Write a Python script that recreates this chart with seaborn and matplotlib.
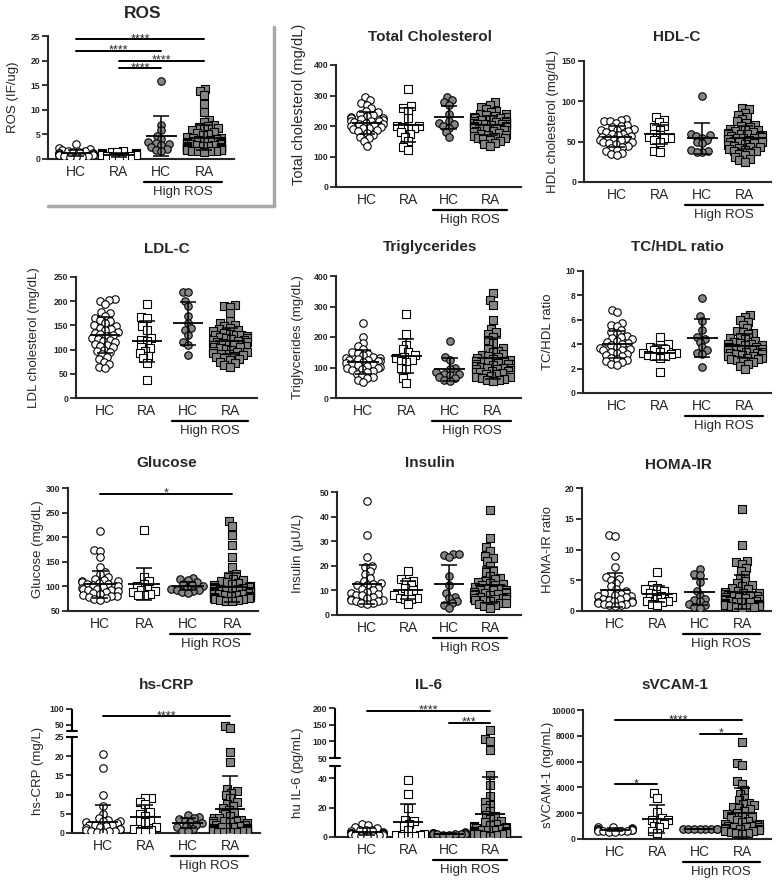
import numpy as np
import matplotlib
matplotlib.use("Agg")
import matplotlib.pyplot as plt
import seaborn as sns
from matplotlib.lines import Line2D
from matplotlib.transforms import ScaledTranslation

sns.set_style("ticks")
plt.rcParams['font.family'] = ['Liberation Sans', 'DejaVu Sans']

W, H = 776, 882
groups = ['HC', 'RA', 'High ROS HC', 'High ROS RA']
group_labels = ['HC', 'RA', 'HC', 'RA']
markers = ['o', 's', 'o', 's']
fills = ['white', 'white', '#858585', '#858585']

# ---- data (HC, RA, High ROS HC, High ROS RA) ----
ros_hc = [3.0, 2.2, 2.0, 1.8, 1.7, 1.6, 1.5, 1.4, 1.3, 1.2, 1.2, 1.1, 1.0, 1.0, 0.9, 0.9, 0.8, 0.7, 0.6, 0.5, 0.4, 0.4]
ros_ra = [1.6, 1.5, 1.4, 1.3, 1.2, 1.1, 1.0, 0.9, 0.8, 0.7, 0.6, 0.5, 0.4, 0.3]
ros_hhc = [15.9, 7.0, 5.8, 4.7, 4.0, 3.5, 3.2, 3.0, 2.8, 2.5, 2.0, 1.8, 1.6]
ros_hra = [14.3, 13.9, 13.1, 11.2, 9.5, 8.0, 7.5, 7.0, 6.8, 6.5, 6.2, 6.0, 5.8, 5.5, 5.2, 5.0, 4.8,
           4.5, 4.3, 4.2, 4.0, 3.9, 3.8, 3.7, 3.6, 3.5, 3.4, 3.3, 3.2, 3.1, 3.0, 3.0, 2.9, 2.8, 2.7,
           2.6, 2.6, 2.5, 2.5, 2.4, 2.3, 2.2, 2.2, 2.1, 2.0, 2.0, 1.9, 1.9, 1.8, 1.8, 1.7, 1.7, 1.6, 1.6, 1.5]
ros_mean = [1.2, 0.9, 4.7, 4.35]
ros_sd = [0.6, 0.4, 4.0, 2.6]

tc_hc = [295, 285, 275, 270, 258, 250, 245, 240, 235, 232, 228, 225, 225, 222, 220, 218, 215, 215, 212,
         210, 208, 205, 203, 200, 198, 195, 192, 190, 186, 182, 178, 172, 165, 160, 150, 135]
tc_ra = [320, 265, 258, 250, 225, 200, 200, 198, 195, 193, 180, 175, 165, 150, 130, 120]
tc_hhc = [295, 285, 280, 270, 240, 215, 210, 205, 200, 195, 180, 165]
tc_hra = [280, 270, 262, 255, 250, 245, 240, 238, 235, 232, 230, 228, 225, 225, 222, 220, 218, 216, 215,
          214, 212, 210, 210, 208, 206, 205, 205, 203, 201, 200, 198, 196, 195, 194, 192, 190, 188, 186,
          184, 182, 180, 178, 175, 172, 170, 168, 165, 162, 160, 158, 155, 150, 145, 140, 135]
tc_mean = [209, 203, 229, 202]
tc_sd = [36, 55, 38, 32]

hdl_hc = [78, 77, 76, 75, 73, 71, 70, 68, 66, 65, 65, 63, 62, 60, 60, 58, 57, 56, 55, 54, 53, 52, 52,
          50, 49, 48, 47, 45, 44, 42, 40, 38, 36, 35, 33]
hdl_ra = [80, 77, 74, 70, 68, 65, 60, 58, 56, 55, 54, 52, 50, 38, 37]
hdl_hhc = [106, 60, 58, 57, 55, 52, 50, 48, 40, 38, 37, 37]
hdl_hra = [92, 90, 86, 83, 80, 78, 75, 73, 71, 70, 68, 66, 65, 64, 63, 62, 61, 60, 60, 59, 58, 57, 57,
           56, 55, 55, 54, 53, 53, 52, 51, 50, 50, 49, 48, 47, 46, 45, 44, 43, 42, 41, 40, 39, 38, 36,
           35, 33, 31, 29, 27, 25]
hdl_mean = [56, 59, 54, 55]
hdl_sd = [13, 12, 19, 14]

ldl_hc = [205, 203, 200, 195, 178, 175, 170, 165, 162, 160, 155, 150, 148, 145, 142, 140, 137, 135, 132,
          130, 128, 125, 122, 120, 118, 115, 112, 110, 108, 105, 100, 98, 95, 90, 85, 80, 75, 70, 65, 62]
ldl_ra = [195, 168, 166, 148, 140, 125, 120, 118, 105, 104, 97, 92, 87, 82, 73, 37]
ldl_hhc = [220, 218, 200, 190, 170, 155, 145, 140, 130, 115, 110, 88]
ldl_hra = [192, 190, 188, 175, 160, 155, 150, 148, 145, 142, 140, 138, 135, 133, 131, 130, 130, 128, 126,
           125, 124, 122, 120, 119, 118, 116, 115, 113, 112, 110, 110, 108, 106, 105, 103, 101, 100, 98,
           96, 95, 93, 91, 90, 88, 86, 84, 82, 80, 78, 75, 72, 68, 65]
ldl_mean = [130, 117, 154, 118]
ldl_sd = [37, 42, 44, 27]

tg_hc = [245, 200, 180, 170, 160, 150, 148, 145, 140, 135, 132, 130, 128, 125, 125, 122, 120, 118, 115,
         112, 110, 108, 105, 102, 100, 98, 95, 92, 90, 85, 80, 75, 70, 65, 60, 52]
tg_ra = [275, 210, 175, 160, 150, 140, 135, 130, 125, 120, 118, 100, 95, 65, 50]
tg_hhc = [188, 135, 125, 100, 95, 85, 80, 78, 75, 70, 65, 60, 55]
tg_hra = [345, 320, 305, 255, 225, 215, 210, 200, 190, 180, 165, 160, 155, 150, 145, 140, 138, 135, 130,
          128, 125, 122, 120, 120, 118, 115, 112, 110, 110, 108, 105, 102, 100, 100, 98, 96, 94, 92, 90,
          88, 86, 84, 82, 80, 78, 75, 72, 70, 68, 65, 62, 60, 58, 55]
tg_mean = [119, 138, 94, 130]
tg_sd = [40, 55, 38, 68]

tchdl_hc = [6.8, 6.6, 5.7, 5.6, 5.5, 5.2, 5.0, 4.9, 4.7, 4.6, 4.5, 4.4, 4.3, 4.2, 4.1, 4.0, 3.9, 3.8,
            3.7, 3.6, 3.5, 3.5, 3.4, 3.3, 3.2, 3.1, 3.0, 2.9, 2.8, 2.7, 2.6, 2.5, 2.4, 2.3]
tchdl_ra = [4.6, 4.0, 3.9, 3.8, 3.6, 3.5, 3.4, 3.3, 3.3, 3.2, 3.1, 3.0, 3.0, 2.9, 1.7]
tchdl_hhc = [7.8, 6.3, 5.9, 5.2, 4.6, 4.4, 4.2, 3.8, 3.5, 3.3, 3.2, 2.1]
tchdl_hra = [6.4, 6.2, 6.0, 5.8, 5.6, 5.3, 5.1, 5.0, 4.9, 4.8, 4.6, 4.5, 4.4, 4.3, 4.2, 4.1, 4.0, 4.0,
             3.9, 3.9, 3.8, 3.8, 3.7, 3.7, 3.6, 3.6, 3.6, 3.5, 3.5, 3.4, 3.4, 3.3, 3.3, 3.2, 3.2, 3.1,
             3.0, 3.0, 2.9, 2.9, 2.8, 2.8, 2.7, 2.6, 2.5, 2.4, 2.2, 2.0]
tchdl_mean = [4.0, 3.3, 4.5, 3.85]
tchdl_sd = [1.1, 0.6, 1.55, 1.0]

glu_hc = [212, 175, 172, 160, 140, 130, 125, 120, 115, 112, 110, 110, 108, 106, 105, 104, 102, 100, 100,
          98, 96, 95, 95, 93, 92, 90, 88, 86, 85, 83, 81, 80, 78, 76, 75, 73]
glu_ra = [215, 120, 110, 105, 100, 95, 92, 90, 88, 85, 82, 82]
glu_hhc = [117, 115, 112, 108, 105, 102, 100, 97, 95, 93, 92, 90, 88, 86]
glu_hra = [232, 222, 205, 185, 160, 140, 125, 120, 115, 112, 110, 108, 106, 104, 102, 100, 100, 99, 98,
           97, 96, 95, 95, 94, 93, 92, 91, 90, 90, 89, 88, 87, 86, 85, 85, 84, 83, 82, 81, 80, 80, 79,
           78, 77, 76, 75, 74, 73, 72, 71, 70]
glu_mean = [104, 105, 100, 98]
glu_sd = [27, 32, 8, 30]

ins_hc = [46.5, 32.5, 23.5, 20, 19.5, 18, 16.5, 15, 14, 13, 12.5, 12, 12, 11, 10.5, 10, 9.5, 9, 8.5,
          8, 8, 7.5, 7, 6.5, 6, 6, 5.5, 5.5, 5, 5, 4.5]
ins_ra = [18, 14.5, 14, 13.5, 12, 11, 10, 9, 8, 7, 7, 6.5, 6.5, 4.5]
ins_hhc = [25, 25, 24.5, 23.5, 16, 12, 9, 7.5, 7, 5.5, 5, 4, 3]
ins_hra = [42.5, 31.5, 27.5, 26, 24, 23, 22, 20, 18, 17.5, 16, 15, 14.5, 14, 13.5, 13, 12.5, 12, 12,
           11.5, 11, 10.5, 10, 10, 10, 9.5, 9.5, 9, 9, 8.5, 8.5, 8, 8, 7.5, 7.5, 7, 7, 6.5, 6.5, 6, 6,
           5.5, 5, 5, 4.5, 4, 3.5, 3]
ins_mean = [12.5, 10.3, 12.6, 12.2]
ins_sd = [8.0, 3.7, 7.8, 7.3]

homa_hc = [12.3, 12.2, 8.9, 7.2, 5.6, 5.2, 5.0, 4.5, 4.0, 3.5, 3.2, 3.0, 3.0, 2.8, 2.6, 2.5, 2.4, 2.2,
           2.0, 1.9, 1.8, 1.7, 1.6, 1.5, 1.4, 1.3, 1.2, 1.1, 1.0, 0.9, 0.8]
homa_ra = [6.4, 4.2, 3.8, 3.5, 3.3, 3.0, 2.8, 2.5, 2.2, 1.9, 1.7, 1.6, 1.5, 1.2, 1.0]
homa_hhc = [6.8, 6.0, 5.8, 4.7, 3.3, 2.5, 2.0, 1.8, 1.6, 1.2, 0.9, 0.7, 0.5]
homa_hra = [16.6, 10.7, 8.2, 8.0, 7.7, 7.0, 6.5, 5.8, 5.3, 4.8, 4.5, 4.2, 4.0, 3.7, 3.5, 3.3, 3.1, 3.0,
            3.0, 2.8, 2.6, 2.5, 2.5, 2.4, 2.3, 2.2, 2.1, 2.0, 2.0, 1.9, 1.8, 1.7, 1.6, 1.5, 1.5, 1.4,
            1.3, 1.2, 1.1, 1.0, 1.0, 0.9, 0.9, 0.8, 0.8, 0.7, 0.7, 0.6, 0.5]
homa_mean = [3.4, 2.8, 3.1, 3.1]
homa_sd = [2.7, 1.3, 2.1, 2.75]

crp_hc = [20.5, 17, 10, 7, 5, 4, 3.5, 3, 3, 2.8, 2.5, 2.2, 2, 2, 1.8, 1.5, 1.2, 1, 1, 0.8, 0.6, 0.5,
          0.4, 0.3, 0.2]
crp_ra = [9.2, 9.0, 8.0, 7.5, 5.5, 5.0, 4.5, 3.5, 3.2, 2.8, 1.5, 1.0, 0.8, 0.5, 0.3]
crp_hhc = [4.6, 4.2, 4.0, 3.6, 3.2, 2.8, 2.5, 2.2, 1.8, 1.5, 1.0, 0.6, 0.4]
crp_hra = [44, 38, 21, 18.5, 11.5, 11.0, 10.5, 10.0, 9.0, 8.0, 7.5, 7.0, 6.5, 6.0, 5.5, 5.0, 4.5, 4.0,
           3.8, 3.5, 3.2, 3.0, 3.0, 2.8, 2.5, 2.5, 2.2, 2.0, 1.8, 1.6, 1.5, 1.5, 1.4, 1.3, 1.2, 1.1,
           1.0, 0.9, 0.8, 0.7, 0.6, 0.5, 0.4, 0.3, 0.3, 0.2, 0.2]
crp_mean = [2.9, 4.2, 2.6, 6.2]
crp_sd = [4.4, 3.0, 1.4, 8.5]

il6_hc = [9, 8, 7, 6, 5, 5, 4.5, 4, 3.5, 3, 3, 3, 2.8, 2.5, 2.5, 2.2, 2, 2, 2, 1.8, 1.5, 1.5, 1.2, 1, 1, 0.8]
il6_ra = [38.5, 29, 19.5, 11.5, 11, 9, 7.5, 5, 2, 1.5, 1.2, 1, 0.8, 0.5]
il6_hhc = [3.5, 3, 3, 2.8, 2.5, 2.5, 2.3, 2.2, 2, 2, 1.8, 1.5, 1.2]
il6_hra = [135, 107, 100, 75, 42, 35, 28, 24, 22, 20, 18, 15, 14, 12, 11, 10, 9, 8, 7.5, 7, 6.5, 6, 6,
           5.5, 5, 5, 4.5, 4, 4, 3.8, 3.5, 3.2, 3, 3, 2.8, 2.5, 2.2, 2, 1.8, 1.5, 1.2, 1]
il6_mean = [3.6, 10.4, 2.3, 15.4]
il6_sd = [2.4, 11.9, 0.6, 25.6]

vcam_hc = [950, 900, 850, 800, 800, 780, 750, 720, 700, 700, 680, 650, 650, 620, 600, 580, 550]
vcam_ra = [3550, 3200, 2100, 1650, 1500, 1450, 1350, 1200, 1000, 900, 600, 500]
vcam_hhc = [760, 750, 750, 740, 760, 750, 745, 755]
vcam_hra = [7500, 5900, 5700, 4500, 4300, 3800, 3500, 3200, 3000, 2800, 2700, 2600, 2500, 2400, 2300,
            2200, 2000, 1900, 1800, 1700, 1600, 1500, 1400, 1300, 1200, 1200, 1100, 1000, 1000, 950,
            900, 900, 850, 800, 800, 750, 700, 650, 600, 550, 500, 450, 400]
vcam_mean = [730, 1550, 750, 2040]
vcam_sd = [120, 1060, 10, 1890]


def broken(xp, fp):
    return (lambda v: np.interp(v, xp, fp), lambda v: np.interp(v, fp, xp))


crp_scale = broken([-100, 0, 25, 30, 100, 1000], [-384, 0, 96, 102, 123.7, 402.7])
il6_scale = broken([-100, 0, 48, 50, 200, 2000], [-147, 0, 70.5, 78.7, 128.7, 728.1])

# layout: axes box in pixels (left, right, top, bottom), first / last category x
panels = [
    dict(title='ROS', ylabel='ROS (IF/ug)', data=(ros_hc, ros_ra, ros_hhc, ros_hra), mean=ros_mean, sd=ros_sd,
         yticks=[0, 5, 10, 15, 20, 25], box=(48, 234, 36, 159), cats=(76, 204), tpos=(143, 14), tsize=12.5,
         loff=36, sig=[(0, 3, 24.3, '****'), (0, 2, 22.0, '****'), (1, 3, 20.0, '****'), (1, 2, 18.4, '****')]),
    dict(title='Total Cholesterol', ylabel='Total cholesterol (mg/dL)', data=(tc_hc, tc_ra, tc_hhc, tc_hra),
         mean=tc_mean, sd=tc_sd, yticks=[0, 100, 200, 300, 400], box=(336, 521, 65, 187), cats=(367, 490),
         tpos=(430, 37), loff=37, ly=0.68, lsize=10.5),
    dict(title='HDL-C', ylabel='HDL cholesterol (mg/dL)', data=(hdl_hc, hdl_ra, hdl_hhc, hdl_hra),
         mean=hdl_mean, sd=hdl_sd, yticks=[0, 50, 100, 150], box=(584, 771, 61, 182), cats=(617, 745),
         tpos=(677, 37), loff=32),
    dict(title='LDL-C', ylabel='LDL cholesterol (mg/dL)', data=(ldl_hc, ldl_ra, ldl_hhc, ldl_hra),
         mean=ldl_mean, sd=ldl_sd, yticks=[0, 50, 100, 150, 200, 250], box=(76, 257, 277, 398), cats=(105, 230),
         tpos=(167, 249), loff=43),
    dict(title='Triglycerides', ylabel='Triglycerides (mg/dL)', data=(tg_hc, tg_ra, tg_hhc, tg_hra),
         mean=tg_mean, sd=tg_sd, yticks=[0, 100, 200, 300, 400], box=(336, 521, 276, 398), cats=(363, 493),
         tpos=(430, 247), loff=39),
    dict(title='TC/HDL ratio', ylabel='TC/HDL ratio', data=(tchdl_hc, tchdl_ra, tchdl_hhc, tchdl_hra),
         mean=tchdl_mean, sd=tchdl_sd, yticks=[0, 2, 4, 6, 8, 10], box=(583, 771, 271, 393), cats=(617, 745),
         tpos=(677, 247), loff=36),
    dict(title='Glucose', ylabel='Glucose (mg/dL)', data=(glu_hc, glu_ra, glu_hhc, glu_hra),
         mean=glu_mean, sd=glu_sd, yticks=[50, 100, 150, 200, 250, 300], box=(68, 258, 488, 611), cats=(100, 232),
         tpos=(167, 463), loff=31, sig=[(0, 3, 288, '*')]),
    dict(title='Insulin', ylabel='Insulin (\u03bcU/L)', data=(ins_hc, ins_ra, ins_hhc, ins_hra),
         mean=ins_mean, sd=ins_sd, yticks=[0, 10, 20, 30, 40, 50], box=(337, 521, 492, 615), cats=(367, 490),
         tpos=(430, 463), loff=40),
    dict(title='HOMA-IR', ylabel='HOMA-IR ratio', data=(homa_hc, homa_ra, homa_hhc, homa_hra),
         mean=homa_mean, sd=homa_sd, yticks=[0, 5, 10, 15, 20], box=(582, 771, 488, 611), cats=(615, 742),
         tpos=(678, 465), loff=35),
    dict(title='hs-CRP', ylabel='hs-CRP (mg/L)', data=(crp_hc, crp_ra, crp_hhc, crp_hra),
         mean=crp_mean, sd=crp_sd, yticks=[0, 5, 10, 15, 20, 25, 50, 100], box=(72, 260, 709, 833),
         cats=(103, 230), tpos=(167, 685), loff=35, scale=crp_scale, brk=(25, 30),
         sig=[(0, 3, 76, '****')]),
    dict(title='IL-6', ylabel='hu IL-6 (pg/mL)', data=(il6_hc, il6_ra, il6_hhc, il6_hra),
         mean=il6_mean, sd=il6_sd, yticks=[0, 20, 40, 50, 100, 150, 200], box=(335, 521, 708, 837),
         cats=(367, 490), tpos=(428, 685), loff=38, scale=il6_scale, brk=(48, 50),
         sig=[(0, 3, 191, '****'), (2, 3, 155, '***')]),
    dict(title='sVCAM-1', ylabel='sVCAM-1 (ng/mL)', data=(vcam_hc, vcam_ra, vcam_hhc, vcam_hra),
         mean=vcam_mean, sd=vcam_sd, yticks=[0, 2000, 4000, 6000, 8000, 10000], box=(583, 771, 710, 839),
         cats=(615, 742), tpos=(675, 685), loff=36,
         sig=[(0, 3, 9200, '****'), (2, 3, 8140, '*'), (0, 1, 4250, '*')]),
]

fig = plt.figure(figsize=(W / 100, H / 100), dpi=100)
swarms = []
LAYOUT_SIZE, MARKER_SIZE = 3.2, 5.4

for p in panels:
    left, right, top, bottom = p['box']
    ax = fig.add_axes([left / W, 1 - bottom / H, (right - left) / W, (bottom - top) / H])
    if 'scale' in p:
        ax.set_yscale('function', functions=p['scale'])
    ymin, ymax = p['yticks'][0], p['yticks'][-1]
    ax.set_ylim(ymin, ymax)

    for i, vals in enumerate(p['data']):
        n_before = len(ax.collections)
        sns.swarmplot(x=[groups[i]] * len(vals), y=vals, order=groups, marker=markers[i],
                      color=fills[i], edgecolor='black', linewidth=0.8, size=LAYOUT_SIZE,
                      ax=ax, zorder=3, warn_thresh=1)
        swarms.extend(ax.collections[n_before:])
    x = np.arange(4)
    ax.errorbar(x, p['mean'], yerr=p['sd'], fmt='none', ecolor='black', elinewidth=1.1,
                capsize=6, capthick=1.1, zorder=10)
    ax.hlines(p['mean'], x - 0.36, x + 0.36, color='black', lw=1.3, zorder=10)

    c0, c3 = p['cats']
    s = (c3 - c0) / 3
    ax.set_xlim((left - c0) / s, (right - c0) / s)
    ax.set_ylim(ymin, ymax)
    ax.set_xticks(x)
    ax.set_xticklabels(group_labels)
    ax.set_yticks(p['yticks'])
    ax.set_yticklabels([str(t) for t in p['yticks']], fontweight='bold')
    ax.tick_params(axis='y', length=4, width=1.3, labelsize=6.2, pad=1.5)
    ax.tick_params(axis='x', length=0, labelsize=10, pad=4)
    ax.set_xlabel('')
    ax.set_ylabel(p['ylabel'], fontsize=p.get('lsize', 9.5))
    ax.yaxis.set_label_coords(-(p['loff'] - 7) / (right - left), p.get('ly', 0.5))
    for side in ['top', 'right']:
        ax.spines[side].set_visible(False)
    ax.spines['bottom'].set_linewidth(1.5)
    ax.spines['left'].set_linewidth(1.5)

    if 'brk' in p:
        b0, b1 = p['brk']
        ytr = ax.get_yaxis_transform()
        ax.spines['left'].set_visible(False)
        ax.plot([0, 0], [ymin, b0], transform=ytr, color='black', lw=1.5, clip_on=False,
                solid_capstyle='butt')
        ax.plot([0, 0], [b1, ymax], transform=ytr, color='black', lw=1.5, clip_on=False,
                solid_capstyle='butt')
        for yb in (b0, b1):
            ax.plot([-0.025, 0.025], [yb, yb], transform=ytr, color='black', lw=1.5, clip_on=False)

    for x1, x2, yv, lab in p.get('sig', []):
        ax.plot([x1, x2], [yv, yv], color='black', lw=1.4, clip_on=False)
        ax.annotate(lab, xy=((x1 + x2) / 2, yv), xytext=(0, -2), textcoords='offset points',
                    ha='center', va='baseline', fontsize=9, annotation_clip=False)

    # "High ROS" bracket under the last two groups
    off = ax.get_xaxis_transform() + ScaledTranslation(0, -0.23, fig.dpi_scale_trans)
    ax.plot([1.6, 3.42], [0, 0], transform=off, color='black', lw=1.6, clip_on=False)
    toff = ax.get_xaxis_transform() + ScaledTranslation(0, -0.33, fig.dpi_scale_trans)
    ax.text(2.51, 0, 'High ROS', transform=toff, ha='center', va='center', fontsize=9.5)

    fig.text(p['tpos'][0] / W, 1 - p['tpos'][1] / H, p['title'], ha='center', va='center',
             fontsize=p.get('tsize', 11), fontweight='bold')

# grey frame around the ROS panel
fig.add_artist(Line2D([274 / W, 274 / W], [1 - 27 / H, 1 - 206 / H], color='#a8a8a8', lw=2.5))
fig.add_artist(Line2D([48 / W, 274 / W], [1 - 206 / H, 1 - 206 / H], color='#a8a8a8', lw=2.5))

# lay the swarms out with small markers (tight, overlapping like the original), then enlarge
fig.canvas.draw()
for coll in swarms:
    if 'draw' in coll.__dict__:
        del coll.draw
    if len(coll.get_sizes()):
        coll.set_sizes([MARKER_SIZE ** 2])

fig.savefig('out.png', dpi=100)
